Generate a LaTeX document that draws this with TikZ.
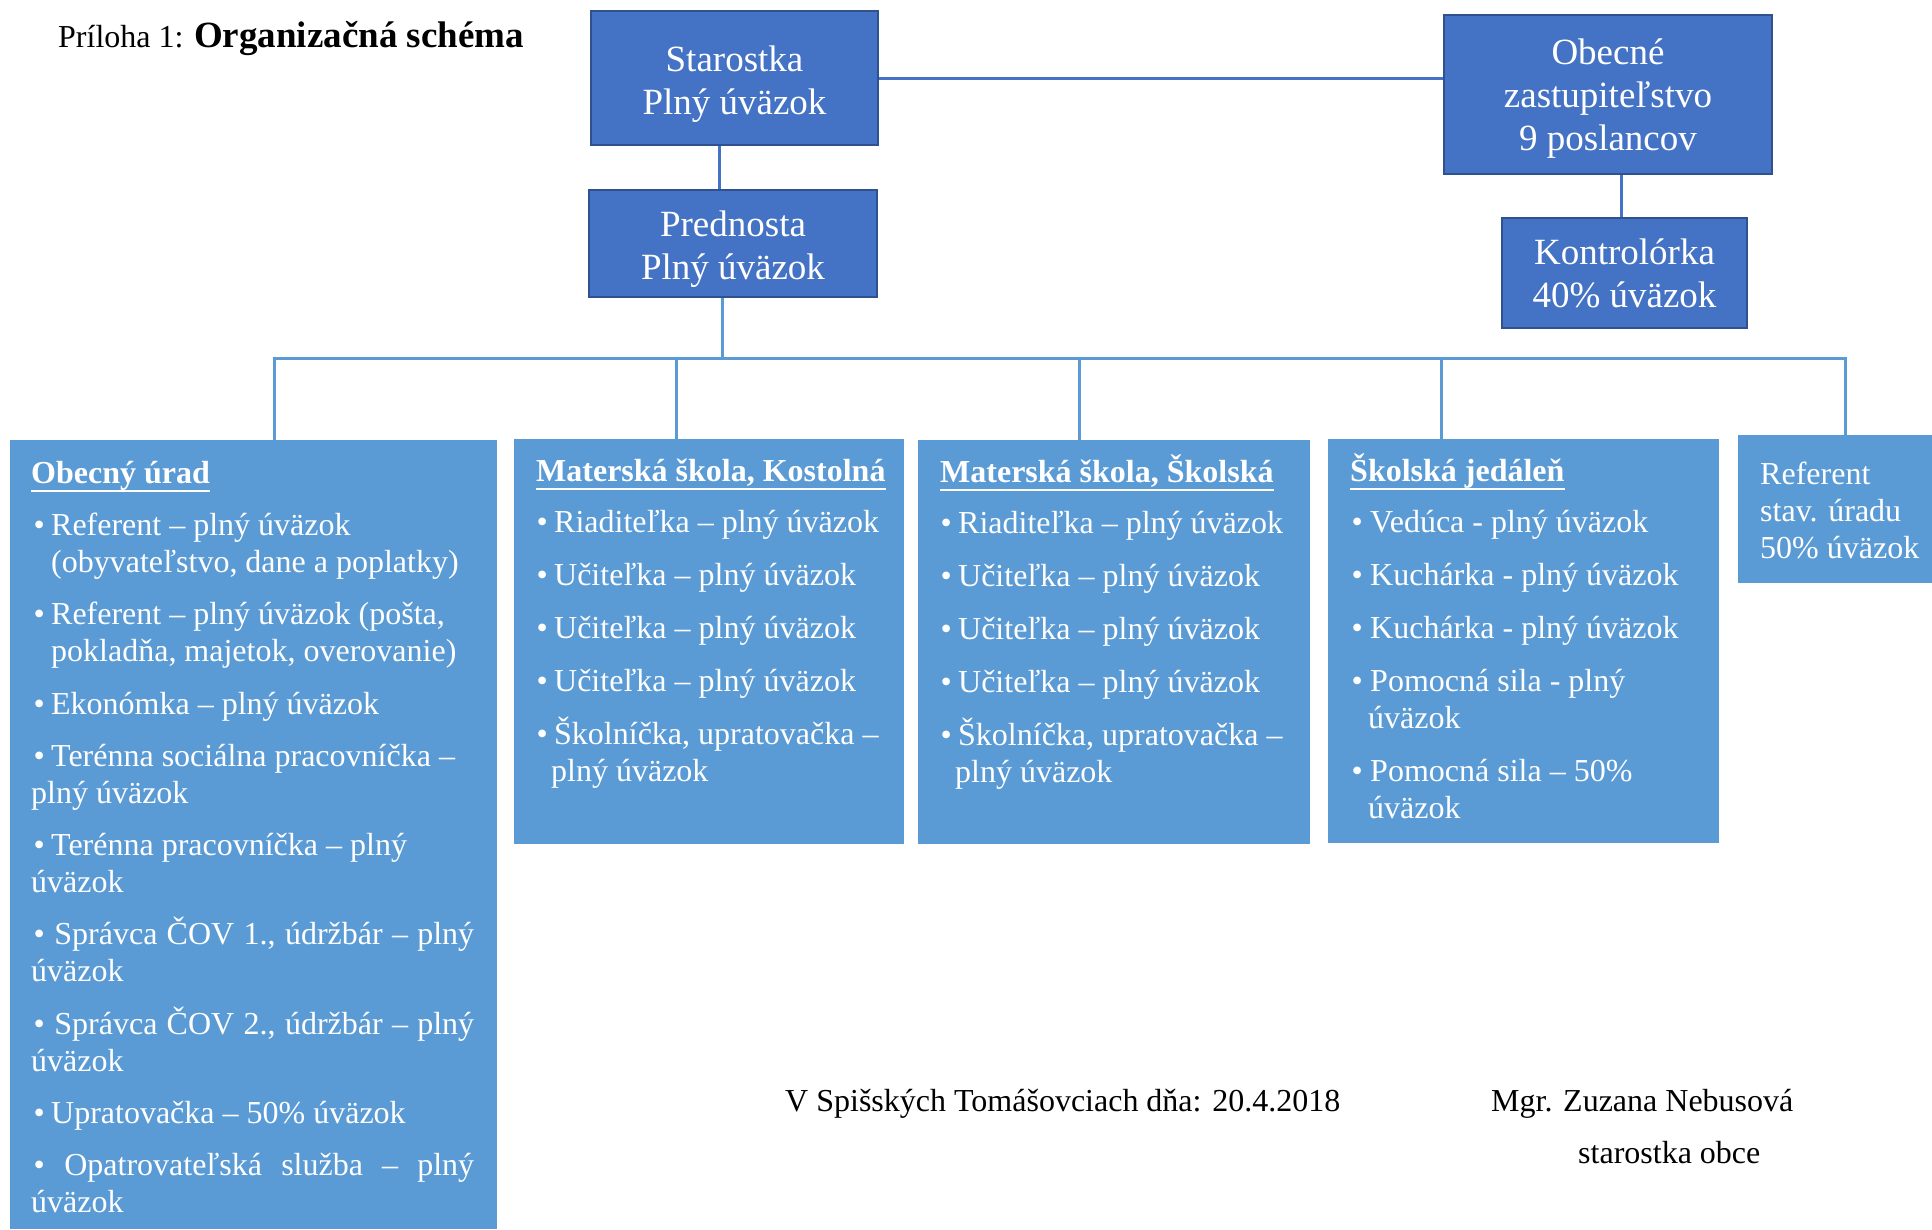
\documentclass[tikz,border=0pt]{standalone}
\usepackage{fontspec}
\setmainfont{Liberation Serif}

\definecolor{topblue}{HTML}{4472C4}
\definecolor{topedge}{HTML}{2F528F}
\definecolor{unitblue}{HTML}{5B9BD5}

\newcommand{\bul}[1][14pt]{\makebox[#1][l]{\kern-3.5pt•}}
\newcommand{\undl}[1]{\leavevmode\setbox0\hbox{#1}\rlap{\rule[-9pt]{\wd0}{2.2pt}}\box0}

\begin{document}
\begin{tikzpicture}[x=1pt, y=-1pt,
    head/.style={draw=topedge, line width=2.5pt, fill=topblue, text=white, align=center,
      inner sep=0pt, font=\fontsize{37}{43}\selectfont},
    unit/.style={fill=unitblue, text=white, inner sep=0pt, anchor=north west,
      font=\fontsize{32}{37.3}\selectfont},
    topline/.style={topblue, line width=3pt},
    unitline/.style={unitblue, line width=3pt},
    plain/.style={inner sep=0pt, anchor=base west}]
    \useasboundingbox (0,0) rectangle (1932,1229);

    % Nadpis
    \node[plain] (title) at (58,47) {\fontsize{32}{38}\selectfont Príloha 1: \fontsize{37}{44}\selectfont\bfseries Organizačná schéma};

    % Vedenie obce
    \node[head, minimum width=287pt, minimum height=134pt] (staro) at (734.5,78) {\rule{0pt}{37pt}Starostka\\Plný úväzok};
    \node[head, minimum width=328pt, minimum height=159pt] (obec) at (1608,94.5) {\rule{0pt}{34pt}Obecné\\zastupiteľstvo\\9 poslancov};
    \node[head, minimum width=288pt, minimum height=107pt] (pred) at (733,243.5) {\rule{0pt}{37pt}Prednosta\\Plný úväzok};
    \node[head, minimum width=245pt, minimum height=110pt] (kontrol) at (1624.5,273) {Kontrolórka\\40\% úväzok};

    % Útvary
    \node[unit] (urad) at (10,440) {\parbox[t][789pt][t]{487pt}{\leftskip=21pt
        \fontsize{32}{37.1}\selectfont
        \rule{0pt}{43pt}\undl{\textbf{Obecný úrad}}\\[15.1pt]
        \hspace*{6pt}\bul Referent – plný úväzok\\
        \hspace*{20pt}(obyvateľstvo, dane a poplatky)\\[15.1pt]
        \hspace*{6pt}\bul Referent – plný úväzok (pošta,\\
        \hspace*{20pt}pokladňa, majetok, overovanie)\\[15.1pt]
        \hspace*{6pt}\bul Ekonómka – plný úväzok\\[15.1pt]
        \hspace*{6pt}\bul Terénna sociálna pracovníčka –\\
        plný úväzok\\[15.1pt]
        \hspace*{6pt}\bul Terénna pracovníčka – plný\\
        úväzok\\[15.1pt]
        \hspace*{6pt}\makebox[437pt][s]{\bul[8pt] Správca ČOV 1., údržbár – plný}\\
        úväzok\\[15.1pt]
        \hspace*{6pt}\makebox[437pt][s]{\bul[8pt] Správca ČOV 2., údržbár – plný}\\
        úväzok\\[15.1pt]
        \hspace*{6pt}\bul Upratovačka – 50\% úväzok\\[15.1pt]
        \hspace*{6pt}\makebox[437pt][s]{\bul[8pt] Opatrovateľská služba – plný}\\
        úväzok}};
    \node[unit] (msk) at (514,439) {\parbox[t][405pt][t]{390pt}{\leftskip=22pt
        \rule{0pt}{42pt}\undl{\textbf{Materská škola, Kostolná}}\\[13.7pt]
        \hspace*{4pt}\bul Riaditeľka – plný úväzok\\[15.7pt]
        \hspace*{4pt}\bul Učiteľka – plný úväzok\\[15.7pt]
        \hspace*{4pt}\bul Učiteľka – plný úväzok\\[15.7pt]
        \hspace*{4pt}\bul Učiteľka – plný úväzok\\[15.7pt]
        \hspace*{4pt}\bul Školníčka, upratovačka –\\
        \hspace*{15pt}plný úväzok}};
    \node[unit] (mss) at (918,440) {\parbox[t][404pt][t]{392pt}{\leftskip=22pt
        \rule{0pt}{42pt}\undl{\textbf{Materská škola, Školská}}\\[13.7pt]
        \hspace*{4pt}\bul Riaditeľka – plný úväzok\\[15.7pt]
        \hspace*{4pt}\bul Učiteľka – plný úväzok\\[15.7pt]
        \hspace*{4pt}\bul Učiteľka – plný úväzok\\[15.7pt]
        \hspace*{4pt}\bul Učiteľka – plný úväzok\\[15.7pt]
        \hspace*{4pt}\bul Školníčka, upratovačka –\\
        \hspace*{15pt}plný úväzok}};
    \node[unit] (jed) at (1328,439) {\parbox[t][404pt][t]{391pt}{\leftskip=22pt
        \rule{0pt}{42pt}\undl{\textbf{Školská jedáleň}}\\[13.7pt]
        \hspace*{5pt}\bul[15pt]Vedúca - plný úväzok\\[15.7pt]
        \hspace*{5pt}\bul[15pt]Kuchárka - plný úväzok\\[15.7pt]
        \hspace*{5pt}\bul[15pt]Kuchárka - plný úväzok\\[15.7pt]
        \hspace*{5pt}\bul[15pt]Pomocná sila - plný\\
        \hspace*{18pt}úväzok\\[15.7pt]
        \hspace*{5pt}\bul[15pt]Pomocná sila – 50\%\\
        \hspace*{18pt}úväzok}};
    \node[unit] (ref) at (1738,435) {\parbox[t][148pt][t]{194pt}{\leftskip=22pt
        \rule{0pt}{49pt}Referent\\
        stav. úradu\\
        50\% úväzok}};

    % Spojnice
    \draw[topline] (staro.east) -- (staro.east -| obec.west);
    \coordinate (s1) at ([xshift=-15pt]staro.south);
    \draw[topline] (s1) -- (s1 |- pred.north);
    \coordinate (k1) at ([xshift=-3pt]kontrol.north);
    \draw[topline] (k1) -- (k1 |- obec.south);
    \coordinate (bus) at (0,358);
    \coordinate (p1) at ([xshift=-11pt]pred.south);
    \draw[unitline] (p1) -- (p1 |- bus);
    \foreach \n/\dx in {urad/20.5, msk/-33, mss/-35, jed/-82, ref/10} {
        \coordinate (d-\n) at ([xshift=\dx pt]\n.north);
        \draw[unitline] (d-\n) -- (d-\n |- bus);
    }
    \draw[unitline] ([xshift=-1.5pt]d-urad |- bus) -- ([xshift=1.5pt]d-ref |- bus);

    % Podpis
    \node[plain] (date) at (785,1111) {\fontsize{32}{38}\selectfont V Spišských Tomášovciach dňa: 20.4.2018};
    \node[plain] (sign) at (1491,1111) {\fontsize{32}{38}\selectfont Mgr. Zuzana Nebusová};
    \node[plain] (role) at (1578,1163) {\fontsize{32}{38}\selectfont starostka obce};
\end{tikzpicture}
\end{document}
